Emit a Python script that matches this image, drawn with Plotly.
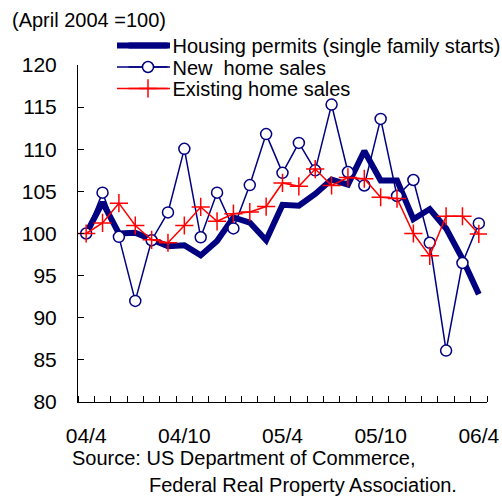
import plotly.graph_objects as go

months = ["04/4", "04/5", "04/6", "04/7", "04/8", "04/9", "04/10", "04/11", "04/12",
          "05/1", "05/2", "05/3", "05/4", "05/5", "05/6", "05/7", "05/8", "05/9",
          "05/10", "05/11", "05/12", "06/1", "06/2", "06/3", "06/4"]
tick_labels = ["04/4", "04/10", "05/4", "05/10", "06/4"]

permits = [100.0, 103.7, 100.0, 100.1, 99.3, 98.5, 98.6, 97.4, 99.1, 101.9, 101.3, 99.2,
           103.4, 103.3, 104.7, 106.4, 105.8, 109.8, 106.3, 106.3, 101.7, 102.9, 100.6, 97.0, 92.8]
new_sales = [100.0, 104.85, 99.6, 92.0, 99.2, 102.5, 110.05, 99.55, 104.85, 100.6, 105.75, 111.8,
             107.2, 110.75, 107.5, 115.3, 107.3, 105.7, 113.6, 104.45, 106.35, 98.9, 86.1, 96.5, 101.2]
existing = [100.0, 101.25, 103.6, 100.95, 99.25, 98.9, 100.95, 103.15, 101.45, 102.35, 102.55, 103.2,
            106.0, 105.6, 107.65, 105.7, 106.65, 106.5, 104.3, 104.15, 100.0, 97.35, 102.05, 102.05, 99.95]

x = list(range(len(months)))
tick_pos = [months.index(t) for t in tick_labels]

NAVY = "#000080"
RED = "#ff0000"
FONT = "Liberation Sans, Arial, sans-serif"

fig = go.Figure()
fig.add_trace(go.Scatter(x=x, y=permits, mode="lines", name="Housing permits (single family starts)",
                         line=dict(color=NAVY, width=6), legend="legend"))
fig.add_trace(go.Scatter(x=x, y=new_sales, mode="lines+markers", name="New  home sales",
                         line=dict(color=NAVY, width=1.5),
                         marker=dict(symbol="circle", size=11, color="white",
                                     line=dict(color=NAVY, width=1.5)), legend="legend2"))
fig.add_trace(go.Scatter(x=x, y=existing, mode="lines+markers", name="Existing home sales",
                         line=dict(color=RED, width=1.5),
                         marker=dict(symbol="cross-thin", size=13,
                                     line=dict(color=RED, width=1.5)), legend="legend3"))

L, R, T, B = 78, 15, 65, 94.5
W, H = 502, 497
pw, ph = W - L - R, H - T - B

def px2paper(px, py):
    return (px - L) / pw, (H - B - py) / ph

leg_common = dict(xanchor="left", yanchor="middle", bgcolor="rgba(0,0,0,0)",
                  font=dict(family=FONT, size=20, color="black"), itemwidth=39)
row_y = [45.5, 67, 88.5]
lx, _ = px2paper(123.5, 0)
ly = [px2paper(0, yy)[1] for yy in row_y]

# legend symbol lines extended to reference length (117px -> 170px)
leg_styles = [(NAVY, 6), (NAVY, 1.5), (RED, 1.5)]
shapes = []
for yy, (c, w) in zip(ly, leg_styles):
    x0, _ = px2paper(117, 0)
    x1, _ = px2paper(170, 0)
    shapes.append(dict(type="line", xref="paper", yref="paper", x0=x0, x1=x1, y0=yy, y1=yy,
                       line=dict(color=c, width=w), layer="above"))

fig.update_layout(
    width=W, height=H,
    margin=dict(l=L, r=R, t=T, b=B, autoexpand=False),
    plot_bgcolor="white", paper_bgcolor="white",
    showlegend=True,
    font=dict(family=FONT, size=20, color="black"),
    legend=dict(x=lx, y=ly[0], **leg_common),
    legend2=dict(x=lx, y=ly[1], **leg_common),
    legend3=dict(x=lx, y=ly[2], **leg_common),
    shapes=shapes,
    xaxis=dict(range=[-0.5, len(months) - 0.5], tickvals=tick_pos, ticktext=tick_labels,
               ticks="", showgrid=False, zeroline=False, showline=True, linecolor="black",
               linewidth=1, ticklabelstandoff=15, tickfont=dict(size=21),
               minor=dict(tick0=0.5, dtick=1, ticks="inside", ticklen=6, tickcolor="black",
                          showgrid=False)),
    yaxis=dict(range=[80, 120], dtick=5, ticks="inside", ticklen=6, tickcolor="black",
               showgrid=False, zeroline=False, showline=True, linecolor="black", linewidth=1,
               ticklabelstandoff=16, tickfont=dict(size=21)),
)

ann_spec = [("(April 2004 =100)", 10, 20), ("Source: US Department of Commerce,", 70, 459),
            ("Federal Real Property Association.", 147, 486)]
anns = []
for text, apx, apy in ann_spec:
    ax_, ay_ = px2paper(apx, apy)
    anns.append(dict(text=text, x=ax_, y=ay_, xref="paper", yref="paper", xanchor="left",
                     yanchor="middle", showarrow=False, font=dict(family=FONT, size=20)))
fig.update_layout(annotations=anns)

fig.write_html("out.html", config={"displayModeBar": False},
               post_script="document.body.style.margin='0';")
